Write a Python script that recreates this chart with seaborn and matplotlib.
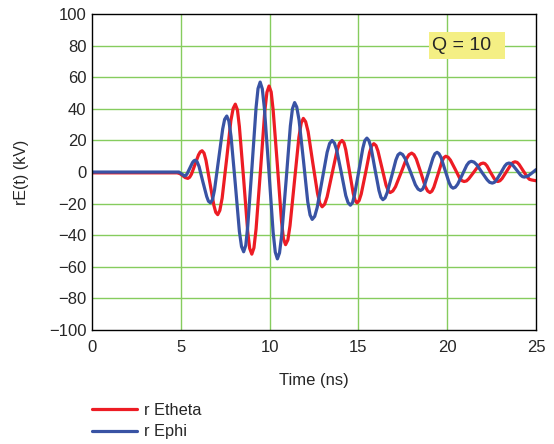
import pandas as pd
import seaborn as sns
import matplotlib.pyplot as plt
from matplotlib.patches import Rectangle

# values (one row per half swing)
t_theta = [0, 4.8, 4.95, 5.1, 5.25,
           5.4, 5.5, 5.6, 5.8, 6.0, 6.1,
           6.2, 6.31, 6.42, 6.64, 6.86, 6.97,
           7.08, 7.20, 7.33, 7.58, 7.82, 7.95,
           8.07, 8.19, 8.30, 8.54, 8.77, 8.88,
           9.0, 9.12, 9.24, 9.49, 9.73, 9.85,
           9.97, 10.09, 10.20, 10.44, 10.67, 10.78,
           10.9, 11.03, 11.15, 11.4, 11.65, 11.78,
           11.9, 12.03, 12.17, 12.43, 12.70, 12.83,
           12.96, 13.10, 13.24, 13.52, 13.80, 13.94,
           14.08, 14.19, 14.29, 14.5, 14.71, 14.82,
           14.92, 15.04, 15.16, 15.40, 15.63, 15.75,
           15.87, 15.99, 16.10, 16.33, 16.56, 16.68,
           16.79, 16.94, 17.09, 17.40, 17.70, 17.85,
           18.0, 18.13, 18.26, 18.52, 18.77, 18.90,
           19.03, 19.14, 19.25, 19.48, 19.70, 19.81,
           19.92, 20.05, 20.18, 20.44, 20.69, 20.82,
           20.95, 21.09, 21.22, 21.49, 21.76, 21.90,
           22.03, 22.13, 22.24, 22.44, 22.65, 22.75,
           22.85, 22.97, 23.09, 23.34, 23.58, 23.70,
           23.82, 23.94, 24.05, 24.28, 24.52, 24.63,
           24.75, 25.0]
e_theta = [-0.5, -0.5, -1.0, -2.2, -3.5,
           -4, -3.3, -1.4, 4.8, 10.9, 12.8,
           13.5, 12.0, 7.4, -6.8, -20.9, -25.5,
           -27, -24.3, -16.5, 8, 32.5, 40.3,
           43, 39.4, 28.8, -4.5, -37.8, -48.4,
           -52, -48, -36, 1.3, 38.5, 50.5,
           54.5, 50.7, 39.4, 4.3, -30.9, -42.2,
           -46, -43, -34, -6, 22, 31,
           34, 31.9, 25.6, 6, -13.6, -19.9,
           -22, -20.4, -15.7, -1, 13.7, 18.4,
           20, 18.5, 14.1, 0.3, -13.6, -18,
           -19.5, -18.1, -13.9, -0.8, 12.4, 16.6,
           18, 16.8, 13.4, 2.5, -8.4, -11.8,
           -13, -12, -9.3, -0.5, 8.3, 11,
           12, 11, 8.3, -0.5, -9.3, -12,
           -13, -12.1, -9.6, -1.5, 6.6, 9.1,
           10, 9.4, 7.6, 2, -3.6, -5.4,
           -6, -5.6, -4.2, -0.2, 3.9, 5.3,
           5.7, 5.3, 3.9, -0.2, -4.2, -5.6,
           -6, -5.5, -4.1, 0.3, 4.6, 6.0,
           6.5, 6.1, 4.8, 0.8, -3.3, -4.6,
           -5, -5.5]

t_phi = [0, 4.9, 5.05,
         5.21, 5.29, 5.36, 5.51, 5.66, 5.74,
         5.81, 5.92, 6.03, 6.24, 6.46, 6.56,
         6.67, 6.79, 6.90, 7.13, 7.36, 7.47,
         7.59, 7.71, 7.83, 8.07, 8.30, 8.42,
         8.54, 8.66, 8.77, 9.01, 9.24, 9.35,
         9.47, 9.59, 9.71, 9.96, 10.20, 10.32,
         10.44, 10.56, 10.68, 10.93, 11.17, 11.29,
         11.41, 11.53, 11.66, 11.91, 12.15, 12.28,
         12.4, 12.54, 12.68, 12.96, 13.24, 13.38,
         13.52, 13.65, 13.78, 14.04, 14.29, 14.42,
         14.55, 14.67, 14.78, 15.02, 15.25, 15.36,
         15.48, 15.59, 15.71, 15.93, 16.16, 16.27,
         16.38, 16.50, 16.62, 16.87, 17.11, 17.23,
         17.35, 17.49, 17.64, 17.93, 18.21, 18.36,
         18.5, 18.62, 18.73, 18.97, 19.20, 19.31,
         19.43, 19.54, 19.66, 19.88, 20.11, 20.22,
         20.33, 20.46, 20.59, 20.85, 21.10, 21.23,
         21.36, 21.51, 21.66, 21.95, 22.25, 22.39,
         22.54, 22.66, 22.77, 23.01, 23.24, 23.35,
         23.47, 23.58, 23.69, 23.91, 24.13, 24.24,
         24.35, 24.55, 24.75, 25.0]
e_phi = [0, 0, -1.2,
         -2.5, -2.1, -1, 2.5, 6, 7.1,
         7.5, 6.5, 3.5, -6, -15.5, -18.5,
         -19.5, -17.4, -11.3, 8, 27.3, 33.4,
         35.5, 32.2, 22.6, -7.5, -37.6, -47.2,
         -50.5, -46.4, -34.4, 3.3, 40.9, 52.9,
         57, 52.7, 40.2, 1, -38.2, -50.7,
         -55, -51.2, -40.2, -5.5, 29.2, 40.2,
         44, 41.2, 32.9, 7, -18.9, -27.2,
         -30, -28.1, -22.5, -5, 12.5, 18.1,
         20, 18.4, 13.9, -0.5, -14.9, -19.4,
         -21, -19.4, -14.6, 0.3, 15.1, 19.9,
         21.5, 20, 15.7, 2, -11.7, -16,
         -17.5, -16.4, -13.1, -2.8, 7.6, 10.9,
         12, 11.1, 8.4, 0.2, -8.1, -10.8,
         -11.7, -10.8, -8.1, 0.4, 8.9, 11.6,
         12.5, 11.6, 9.1, 1.2, -6.8, -9.3,
         -10.2, -9.6, -7.7, -1.7, 4.3, 6.2,
         6.8, 6.3, 4.7, -0.1, -4.9, -6.5,
         -7, -6.5, -5.1, -0.7, 3.8, 5.2,
         5.7, 5.4, 4.4, 1.3, -1.9, -2.9,
         -3.2, -2.5, -0.8, 1.5]

series = ['r Etheta', 'r Ephi']
colors = {'r Etheta': '#ed1c24', 'r Ephi': '#3953a4'}

df = pd.concat([
    pd.DataFrame({'t': t_theta, 'E': e_theta, 'series': series[0]}),
    pd.DataFrame({'t': t_phi, 'E': e_phi, 'series': series[1]}),
])

sns.set_style('white')
plt.rcParams['font.family'] = ['Liberation Sans', 'DejaVu Sans']

fig = plt.figure(figsize=(5.54, 4.44), dpi=100)
ax = fig.add_axes([0.166, 0.257, 0.8015, 0.711])

grid_col = '#86cc5e'
ax.set_xlim(0, 25)
ax.set_ylim(-100, 100)
ax.set_xticks(range(0, 26, 5))
ax.set_yticks(range(-100, 101, 20))
for x in range(5, 25, 5):
    ax.axvline(x, color=grid_col, lw=1, zorder=0)
for y in range(-80, 100, 20):
    ax.axhline(y, color=grid_col, lw=1, zorder=0)

sns.lineplot(data=df, x='t', y='E', hue='series', sort=False, estimator=None,
             palette=colors, lw=2.3, ax=ax, legend=False)

for s in ax.spines.values():
    s.set_color('black')
    s.set_linewidth(1)
ax.tick_params(axis='y', length=0, labelsize=12, pad=4)
ax.tick_params(axis='x', length=0, labelsize=12, pad=7)
ax.set_yticklabels([str(v).replace('-', '\u2212') for v in range(-100, 101, 20)])
ax.set_xlabel('Time (ns)', fontsize=12, labelpad=13.5)
ax.set_ylabel('rE(t) (kV)', fontsize=11.5, labelpad=14)

# Q label box
ax.add_patch(Rectangle((19.0, 71.5), 4.28, 17.2, fc='#f4ef84', ec='none', zorder=1.5))
ax.text(19.14, 80.3, 'Q = 10', fontsize=14, ha='left', va='center', zorder=3)

handles = [plt.Line2D([], [], color=colors[s], lw=2.3) for s in series]
fig.legend(handles, series, loc='upper left', bbox_to_anchor=(0.155, 0.108),
           frameon=False, fontsize=11.8, handlelength=2.7, handletextpad=0.45,
           labelspacing=0.42, borderaxespad=0)

fig.savefig('out.png', dpi=100)
